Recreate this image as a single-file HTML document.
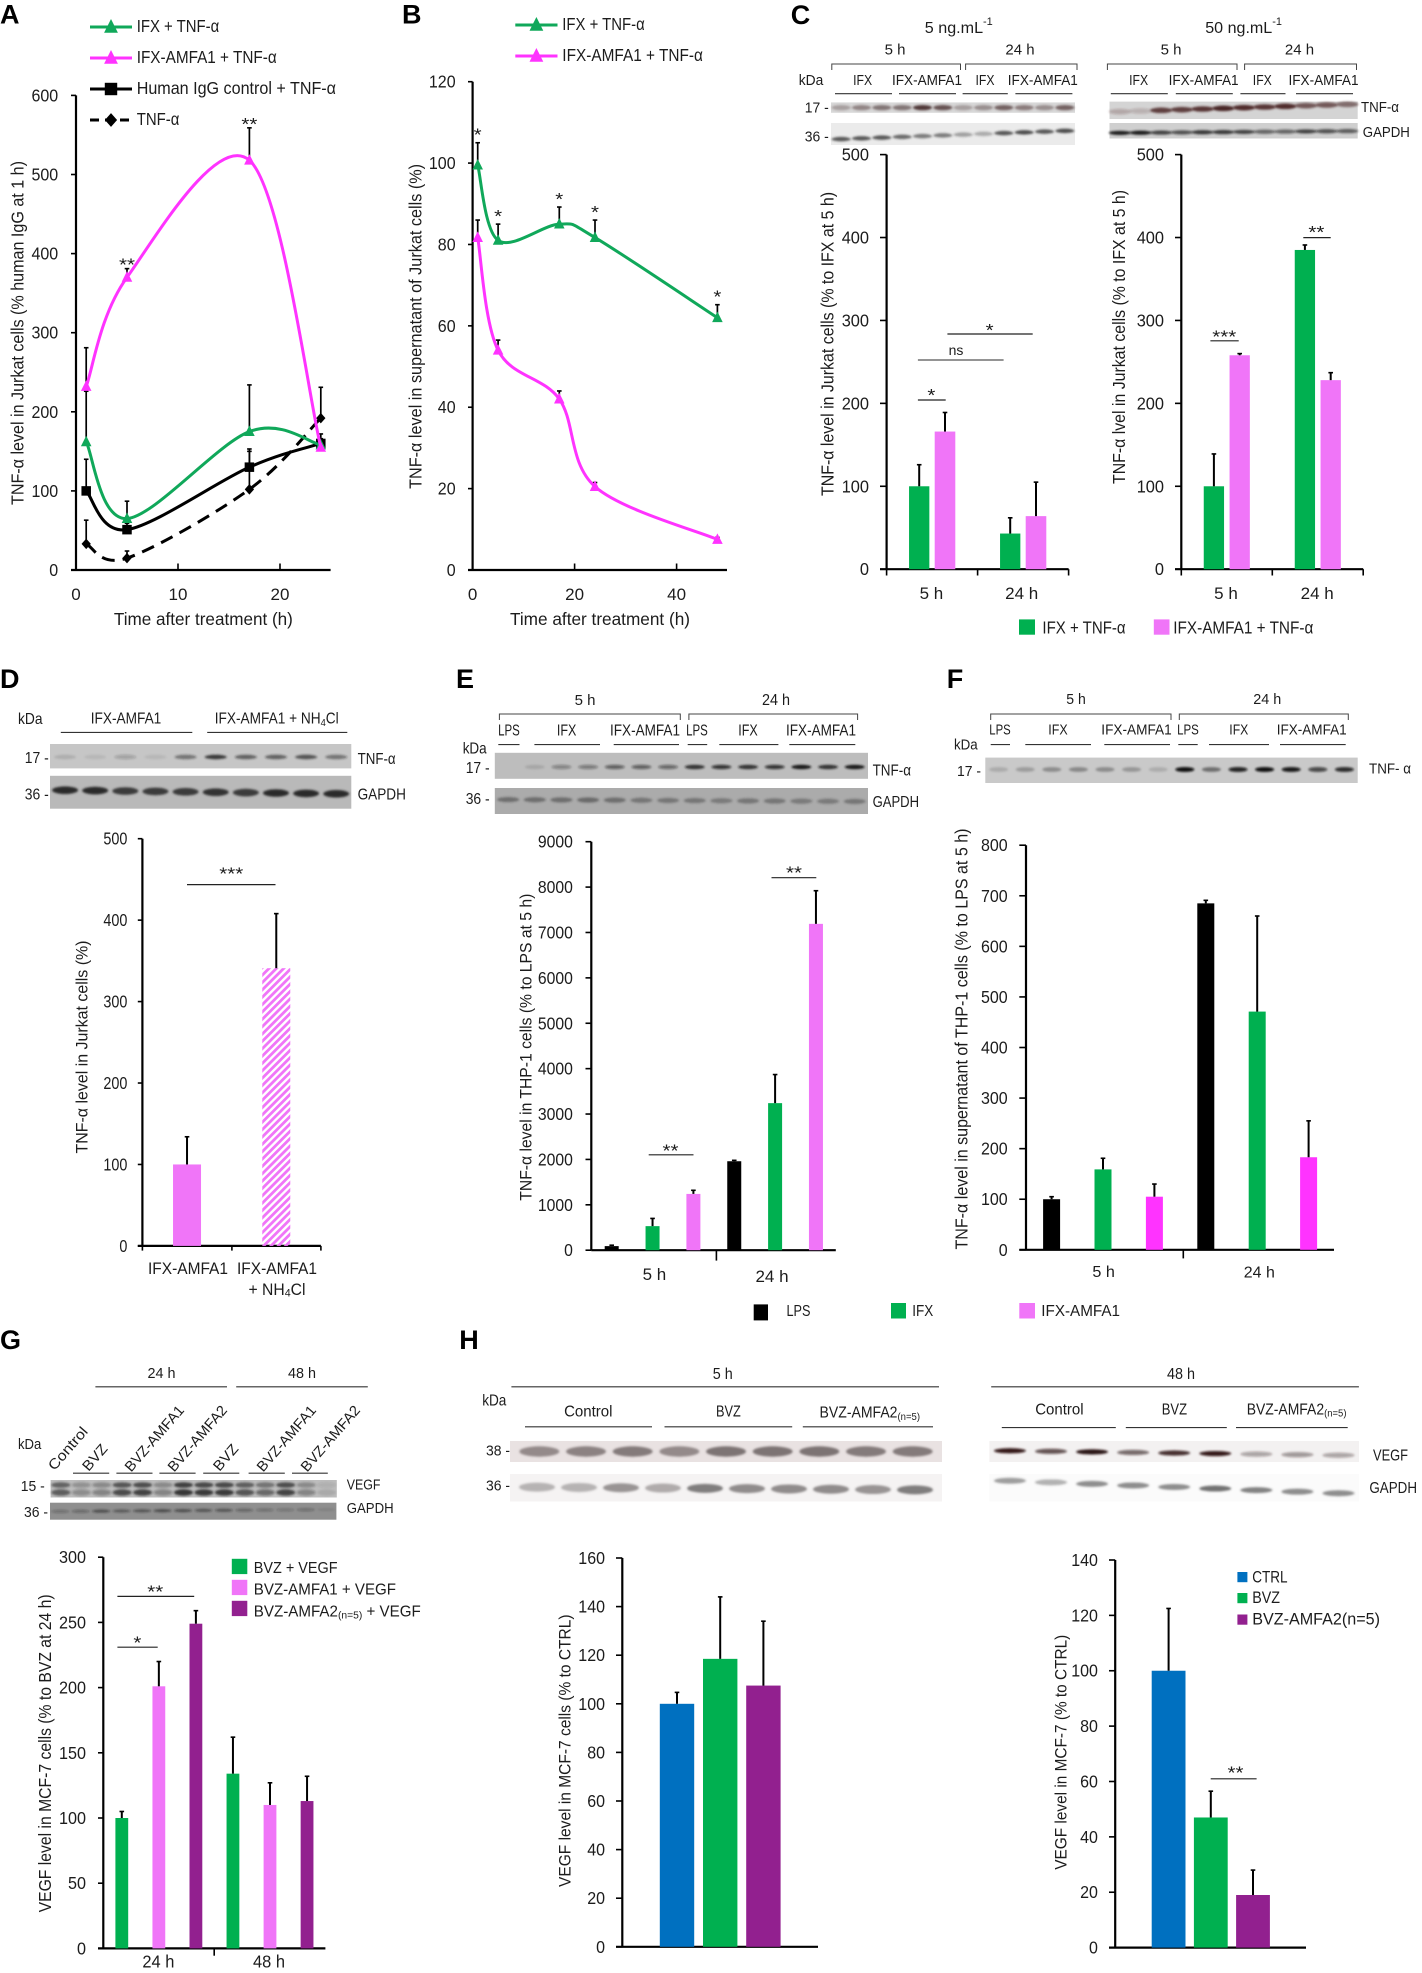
<!DOCTYPE html>
<html lang="en">
<head>
<meta charset="utf-8">
<title>TNF-α and VEGF levels figure</title>
<style>
html,body{margin:0;padding:0;background:#fff;}
svg{display:block;font-family:"Liberation Sans","DejaVu Sans",sans-serif;filter:blur(.35px);}
</style>
</head>
<body>
<svg id="figure" xmlns="http://www.w3.org/2000/svg" width="1422" height="1973" viewBox="0 0 1422 1973">
<defs>
<filter id="bandBlur" x="-30%" y="-80%" width="160%" height="260%"><feGaussianBlur stdDeviation="1.1"/></filter>
<pattern id="hatch" width="5.2" height="5.2" patternUnits="userSpaceOnUse" patternTransform="rotate(45)">
<rect width="2.8" height="5.2" fill="#f075f8"/>
</pattern>
</defs>
<rect width="1422" height="1973" fill="#fff"/>
</svg>
<script>
/* ---------- Panel A data ---------- */
const aTimes = [1, 5, 17, 24];
const aIfx = [162, 65, 175, 158];
const aIfxErr = [64, 22, 59, 8];
const aAmfa = [232, 370, 518, 155];
const aAmfaErr = [49, 11, 41, 0];
const aIgg = [100, 51, 130, 160];
const aIggErr = [40, 8, 23, 12];
const aTnf = [33, 15, 102, 192];
const aTnfErr = [30, 9, 48, 39];
const aYTicks = [0, 100, 200, 300, 400, 500, 600];
const aXTicks = [0, 10, 20];
/* ---------- Panel B data ---------- */
const bTimes = [1, 5, 17, 24, 48];
const bIfx = [99.5, 81, 85, 81.7, 62];
const bIfxErr = [5.5, 4, 4.2, 4.3, 3.2];
const bAmfa = [81.7, 54, 42, 20.5, 7.5];
const bAmfaErr = [4.3, 2.5, 2, 1, 0.5];
const bYTicks = [0, 20, 40, 60, 80, 100, 120];
const bXTicks = [0, 20, 40];
/* ---------- Panel C data ---------- */
const cCats = ['5 h', '24 h'];
const cYTicks = [0, 100, 200, 300, 400, 500];
const c1Ifx = [100, 43];
const c1IfxErr = [26, 19];
const c1Amfa = [166, 64];
const c1AmfaErr = [23, 41];
const c2Ifx = [100, 385];
const c2IfxErr = [39, 6];
const c2Amfa = [258, 228];
const c2AmfaErr = [2, 9];
/* ---------- Panel D data ---------- */
const dCats = ['IFX-AMFA1', 'IFX-AMFA1 + NH4Cl'];
const dValues = [100, 341];
const dErr = [34, 67];
const dYTicks = [0, 100, 200, 300, 400, 500];
/* ---------- Panel E data ---------- */
const eValues = [90, 530, 1240, 1960, 3240, 7190];
const eErr = [20, 170, 80, 20, 630, 730];
const eYTicks = [0, 1000, 2000, 3000, 4000, 5000, 6000, 7000, 8000, 9000];
/* ---------- Panel F data ---------- */
const fValues = [100, 159, 105, 685, 471, 183];
const fErr = [5, 22, 25, 6, 189, 72];
const fYTicks = [0, 100, 200, 300, 400, 500, 600, 700, 800];
/* ---------- Panel G data ---------- */
const gValues = [100, 201, 249, 134, 110, 113];
const gErr = [5, 19, 10, 28, 17, 19];
const gYTicks = [0, 50, 100, 150, 200, 250, 300];
/* ---------- Panel H data ---------- */
const h1Values = [100, 118.5, 107.5];
const h1Err = [4.7, 25.5, 26.5];
const h1YTicks = [0, 20, 40, 60, 80, 100, 120, 140, 160];
const h2Values = [100, 47, 19];
const h2Err = [22.5, 9.5, 9];
const h2YTicks = [0, 20, 40, 60, 80, 100, 120, 140];
/* ---------- Blot band intensities ---------- */
const blotC1Tnf = [.35,.5,.6,.6,.95,.8,.35,.45,.7,.55,.45,.7];
const blotC1Gapdh = [.8,.8,.8,.7,.6,.6,.4,.35,.8,.85,.8,.85];
const blotC2Tnf = [.25,.2,.85,.85,.9,1,.95,.9,.95,.7,.7,.6];
const blotC2Gapdh = [1,1,.8,.7,.85,.85,.8,.6,.6,.8,.7,.65];
const blotDTnf = [.12,.08,.22,.08,.5,.85,.6,.6,.7,.5];
const blotDGapdh = [1,1,.9,.9,.9,.95,.9,1,1,1];
const blotETnf = [0,.12,.35,.4,.55,.55,.5,.85,.8,.85,.8,1,.85,1];
const blotEGapdh = [.5,.5,.5,.55,.5,.45,.45,.45,.4,.45,.45,.4,.4,.45];
const blotFTnf = [.15,.22,.3,.32,.3,.25,.14,1,.45,.9,1,.95,.7,.85];
const blotGVegf = [.6,.3,.35,.7,.75,.35,.85,.8,.8,.65,.5,.75,.35,.1];
const blotGGapdh = [.3,.35,.6,.5,.55,.65,.6,.55,.55,.4,.3,.25,.3,.1];
const blotH1Vegf = [.6,.65,.7,.6,.75,.75,.75,.7,.7];
const blotH1Gapdh = [.4,.4,.6,.45,.75,.65,.65,.65,.6,.75];
const blotH2Vegf = [.95,.7,1,.6,.85,.95,.35,.4,.35];
const blotH2Gapdh = [.5,.4,.6,.6,.6,.75,.65,.6,.6];

const NS = 'http://www.w3.org/2000/svg';
const root = document.getElementById('figure');
let cur = root;
const INK = '#1c1c1c';
const GREEN = '#00b050', PINK = '#f075f8', MAGENTA = '#ff33ff', PURPLE = '#92208f', BLUE = '#0070c0';

function el(tag, attrs, name, interact) {
  const e = document.createElementNS(NS, tag);
  for (const k in attrs) e.setAttribute(k, attrs[k]);
  
  
  cur.appendChild(e);
  return e;
}
function panel(name) {
  cur = root;
  cur = el('g', {}, name);
}
/* text; [[x]] = subscript, <<x>> = superscript */
function t(x, y, str, name, o) {
  o = o || {};
  const size = (o.s || 14.5) * (o.w ? 1.07 : 1);
  const a = {x: x, y: y, fill: o.c || INK, 'font-size': size, 'text-anchor': o.a || 'start', 'dominant-baseline': 'central'};
  if (o.b) a['font-weight'] = 'bold';
  if (o.w) { a.textLength = o.w; a.lengthAdjust = 'spacingAndGlyphs'; }
  if (o.r) a.transform = 'rotate(' + o.r + ' ' + x + ' ' + y + ')';
  const e = el('text', a, name);
  const parts = str.split(/(\[\[.*?\]\]|<<.*?>>)/);
  let shift = 0;
  parts.forEach(function (p) {
    if (!p) return;
    const ts = document.createElementNS(NS, 'tspan');
    let want = 0, txt = p;
    if (p.indexOf('[[') === 0) { want = size * .28; txt = p.slice(2, -2); ts.setAttribute('font-size', size * .68); }
    else if (p.indexOf('<<') === 0) { want = -size * .35; txt = p.slice(2, -2); ts.setAttribute('font-size', size * .68); }
    if (want !== shift) { ts.setAttribute('dy', want - shift); shift = want; }
    ts.textContent = txt;
    e.appendChild(ts);
  });
  return e;
}
function ln(x1, y1, x2, y2, name, w, c) {
  return el('line', {x1: x1, y1: y1, x2: x2, y2: y2, stroke: c || '#000', 'stroke-width': w || 1.8}, name);
}
function rc(x, y, w, h, fill, name) {
  return el('rect', {x: x, y: y, width: w, height: h, fill: fill}, name);
}
function star(cx, cy, label, name) {
  t(cx, cy + 4, label, name, {a: 'middle', s: 16, w: label.length * 8});
}
function sig(x1, x2, y, label, sx, sy, name, c) {
  ln(x1, y, x2, y, name + '-line', 1.2, c || '#222');
  star(sx, sy, label, name + '-stars');
}
function scaleY(yBottom, yTop, max) {
  return function (v) { return yBottom - (v / max) * (yBottom - yTop); };
}
function drawYAxis(o) {
  const y = scaleY(o.yB, o.yT, o.max);
  ln(o.x, o.yT, o.x, o.yB, 'y-axis-line', 2.2);
  o.ticks.forEach(function (v) {
    ln(o.tl, y(v), o.x, y(v), 'y-axis-tick-' + v, 1.6);
    t(o.lr, y(v), String(v), 'y-tick-label-' + v, {a: 'end', s: o.fs || 16.5, w: String(v).length * o.dw});
  });
  ln(o.xs === undefined ? o.tl : o.xs, o.yB, o.xe, o.yB, 'x-axis-line', 2.2);
  return y;
}
function errBar(cx, top, base, name, lw) {
  ln(cx, base, cx, top, name, lw || 2);
  ln(cx - 2.3, top, cx + 2.3, top, name + '-cap', 1.6);
}
function bars(values, errs, colors, cxFn, bw, y, prefix) {
  values.forEach(function (v, i) {
    const cx = cxFn(i);
    const c = colors[i];
    rc(cx - bw / 2, y(v), bw, y(0) - y(v), c, prefix + '-bar-' + i);
    if (errs[i] > 0) errBar(cx, y(v + errs[i]), y(v), prefix + '-error-bar-' + i);
  });
}
/* Excel-style smoothed line through pixel points */
function smooth(pts) {
  let d = 'M' + pts[0][0] + ' ' + pts[0][1];
  for (let i = 0; i < pts.length - 1; i++) {
    const p0 = pts[Math.max(0, i - 1)], p1 = pts[i], p2 = pts[i + 1], p3 = pts[Math.min(pts.length - 1, i + 2)];
    const c1 = [p1[0] + (p2[0] - p0[0]) / 6, p1[1] + (p2[1] - p0[1]) / 6];
    const c2 = [p2[0] - (p3[0] - p1[0]) / 6, p2[1] - (p3[1] - p1[1]) / 6];
    d += ' C' + c1[0] + ' ' + c1[1] + ' ' + c2[0] + ' ' + c2[1] + ' ' + p2[0] + ' ' + p2[1];
  }
  return d;
}
function marker(type, cx, cy, color, name, k) {
  k = k || .88;
  if (type === 'tri') return el('polygon', {points: cx + ',' + (cy - 7 * k) + ' ' + (cx + 6 * k) + ',' + (cy + 5 * k) + ' ' + (cx - 6 * k) + ',' + (cy + 5 * k), fill: color}, name);
  if (type === 'sq') return rc(cx - 5.4 * k, cy - 5.4 * k, 10.8 * k, 10.8 * k, color, name);
  return el('polygon', {points: cx + ',' + (cy - 6 * k) + ' ' + (cx + 5.3 * k) + ',' + cy + ' ' + cx + ',' + (cy + 6 * k) + ' ' + (cx - 5.3 * k) + ',' + cy, fill: color}, name);
}
function series(times, vals, errs, x, y, color, type, dash, prefix) {
  const pts = times.map(function (tv, i) { return [x(tv), y(vals[i])]; });
  times.forEach(function (tv, i) {
    if (errs[i] > 0) errBar(x(tv), y(vals[i] + errs[i]), y(vals[i]), prefix + '-error-bar-' + tv, 1.7);
  });
  const a = {d: smooth(pts), fill: 'none', stroke: color, 'stroke-width': 3};
  if (dash) a['stroke-dasharray'] = dash;
  el('path', a, prefix + '-line');
  pts.forEach(function (p, i) { marker(type, p[0], p[1], color, prefix + '-point-' + times[i]); });
}
function lineLegend(x1, x2, yc, tx, tw, label, color, type, dash, name) {
  const a = {x1: x1, y1: yc, x2: x2, y2: yc, stroke: color, 'stroke-width': 3};
  if (dash) a['stroke-dasharray'] = dash;
  el('line', a, name + '-line');
  marker(type, (x1 + x2) / 2, yc, color, name + '-marker', 1.15);
  t(tx, yc - 1, label, name + '-label', {w: tw, s: 16});
}
function blot(x, y, w, h, bg, name) {
  rc(x, y, w, h, bg, name);
}
function bands(x, w, n, yc, slope, vals, rx, ry, color, name, inset) {
  inset = inset || 0;
  const lw = (w - 2 * inset) / n;
  vals.forEach(function (v, i) {
    if (v <= 0) return;
    const cx = x + inset + (i + .5) * lw;
    const cy = yc + slope * ((i + .5) / n - .5);
    el('ellipse', {cx: cx, cy: cy, rx: rx, ry: ry, fill: color, 'fill-opacity': v, filter: 'url(#bandBlur)'}, name + '-band-' + i);
  });
}
function bracket(x1, x2, y, drop, name) {
  el('path', {d: 'M' + x1 + ' ' + (y + drop) + 'V' + y + 'H' + x2 + 'V' + (y + drop), fill: 'none', stroke: '#444', 'stroke-width': 1}, name);
}
function under(arr, y, name) {
  arr.forEach(function (p, i) { ln(p[0], y, p[1], y, name + '-' + i, 1.1, '#333'); });
}
const LW = 'IFX + TNF-α', LA = 'IFX-AMFA1 + TNF-α';

/* ============ Panel A ============ */
panel('panel-a');
t(0, 14.5, 'A', 'panel-label-a', {s: 27, b: 1, c: '#000'});
lineLegend(90, 132, 27, 136.7, 82.5, LW, '#10a85a', 'tri', null, 'legend-ifx');
lineLegend(90, 132, 58, 136.7, 140, LA, MAGENTA, 'tri', null, 'legend-ifx-amfa1');
lineLegend(90, 132, 89, 136.7, 199.3, 'Human IgG control + TNF-α', '#000', 'sq', null, 'legend-human-igg');
lineLegend(90, 132, 120, 136.7, 42.7, 'TNF-α', '#000', 'dia', '9 6', 'legend-tnf');
(function () {
  const yA = drawYAxis({x: 76, yB: 570, yT: 95.4, max: 600, ticks: aYTicks, tl: 71, lr: 58.2, dw: 8.9, xe: 330.6});
  const xA = function (h) { return 76 + h * 10.2; };
  aXTicks.forEach(function (v) {
    if (v > 0) ln(xA(v), 570, xA(v), 563.5, 'x-axis-tick-' + v, 1.6);
    t(xA(v), 594, String(v), 'x-tick-label-' + v, {a: 'middle', s: 17});
  });
  t(17.5, 333, 'TNF-α level in Jurkat cells (% human IgG at 1 h)', 'y-axis-title', {a: 'middle', r: -90, w: 344, s: 16});
  t(203.4, 619, 'Time after treatment (h)', 'x-axis-title', {a: 'middle', w: 179, s: 16});
  series(aTimes, aTnf, aTnfErr, xA, yA, '#000', 'dia', '13 8', 'tnf-series');
  series(aTimes, aIgg, aIggErr, xA, yA, '#000', 'sq', null, 'igg-series');
  series(aTimes, aIfx, aIfxErr, xA, yA, '#10a85a', 'tri', null, 'ifx-series');
  series(aTimes, aAmfa, aAmfaErr, xA, yA, MAGENTA, 'tri', null, 'amfa-series');
  star(xA(5), yA(aAmfa[1] + aAmfaErr[1]) - 8, '**', 'significance-5h');
  star(xA(17), yA(aAmfa[2] + aAmfaErr[2]) - 8, '**', 'significance-17h');
})();

/* ============ Panel B ============ */
panel('panel-b');
t(402, 14.5, 'B', 'panel-label-b', {s: 27, b: 1, c: '#000'});
lineLegend(515.3, 557.5, 25, 562.3, 82.4, LW, '#10a85a', 'tri', null, 'legend-ifx');
lineLegend(515.3, 557.5, 56, 562.3, 140.6, LA, MAGENTA, 'tri', null, 'legend-ifx-amfa1');
(function () {
  const yB = drawYAxis({x: 472.6, yB: 570, yT: 81.7, max: 120, ticks: bYTicks, tl: 468, lr: 455.6, dw: 8.9, xe: 727});
  const xB = function (h) { return 472.6 + h * 5.1; };
  bXTicks.forEach(function (v) {
    if (v > 0) ln(xB(v), 570, xB(v), 563.5, 'x-axis-tick-' + v, 1.6);
    t(xB(v), 594, String(v), 'x-tick-label-' + v, {a: 'middle', s: 17});
  });
  t(415.4, 326.4, 'TNF-α level in supernatant of Jurkat cells (%)', 'y-axis-title', {a: 'middle', r: -90, w: 325, s: 16});
  t(600, 619, 'Time after treatment (h)', 'x-axis-title', {a: 'middle', w: 180, s: 16});
  series(bTimes, bAmfa, bAmfaErr, xB, yB, MAGENTA, 'tri', null, 'amfa-series');
  series(bTimes, bIfx, bIfxErr, xB, yB, '#10a85a', 'tri', null, 'ifx-series');
  bTimes.forEach(function (h, i) {
    star(xB(h), yB(bIfx[i] + bIfxErr[i]) - 12, '*', 'significance-' + h + 'h');
  });
})();

/* ============ Panel C ============ */
panel('panel-c');
t(790.8, 15, 'C', 'panel-label-c', {s: 27, b: 1, c: '#000'});
t(958.8, 27.8, '5 ng.mL<<-1>>', 'concentration-label-5', {a: 'middle', w: 68, s: 15});
t(1243.6, 27.8, '50 ng.mL<<-1>>', 'concentration-label-50', {a: 'middle', w: 76.7, s: 15});
t(895, 49.3, '5 h', 'blot-time-5h', {a: 'middle', s: 15});
t(1020, 49.3, '24 h', 'blot-time-24h', {a: 'middle', s: 15});
t(1171, 49.3, '5 h', 'blot-time-5h', {a: 'middle', s: 15});
t(1299.5, 49.3, '24 h', 'blot-time-24h', {a: 'middle', s: 15});
bracket(831.8, 960.5, 64, 6, 'bracket-5h');
bracket(965.6, 1077, 64, 6, 'bracket-24h');
bracket(1107.4, 1237, 64, 6, 'bracket-5h');
bracket(1244.6, 1356.5, 64, 6, 'bracket-24h');
t(798.8, 80, 'kDa', 'kda-label', {w: 24.5, s: 14});
[[862.6, 'IFX', 19], [927, 'IFX-AMFA1', 70], [985, 'IFX', 19], [1042.8, 'IFX-AMFA1', 70],
 [1138.6, 'IFX', 19], [1203.6, 'IFX-AMFA1', 70], [1262.3, 'IFX', 19], [1323.5, 'IFX-AMFA1', 70]].forEach(function (p) {
  t(p[0], 80, p[1], 'blot-lane-label', {a: 'middle', w: p[2], s: 14});
});
under([[835, 892], [899, 956], [962.6, 1007.8], [1015.4, 1072.4], [1110.8, 1167.8], [1175.8, 1232.8], [1240.4, 1285.5], [1296, 1353]], 93.7, 'lane-underline');
blot(831, 102.4, 244, 10.4, '#d8d8d8', 'blot-c1-tnf');
bands(831, 244, 12, 107.6, 0, blotC1Tnf, 9.5, 2.6, '#4a3030', 'blot-c1-tnf');
blot(831, 123, 244, 22, '#ebebeb', 'blot-c1-gapdh');
bands(831, 244, 12, 135, -9, blotC1Gapdh, 9.5, 2.2, '#333', 'blot-c1-gapdh');
blot(1109.5, 101.6, 248.2, 17.4, '#d4d4d4', 'blot-c2-tnf');
bands(1109.5, 248.2, 12, 108, -8, blotC2Tnf, 11, 2.8, '#4a2525', 'blot-c2-tnf');
blot(1109.5, 123, 248.2, 15.5, '#cfcfcf', 'blot-c2-gapdh');
bands(1109.5, 248.2, 12, 132, -2, blotC2Gapdh, 11, 2.1, '#1e1e1e', 'blot-c2-gapdh');
t(828.8, 107.4, '17 -', 'blot-mw-17', {a: 'end', w: 24, s: 14});
t(828.8, 136.4, '36 -', 'blot-mw-36', {a: 'end', w: 24, s: 14});
t(1361, 107, 'TNF-α', 'blot-label-tnf', {w: 38, s: 14});
t(1362.8, 132, 'GAPDH', 'blot-label-gapdh', {w: 47, s: 14});
(function () {
  const y1 = drawYAxis({x: 886.6, yB: 569.2, yT: 154.6, max: 500, ticks: cYTicks, tl: 880, lr: 869, dw: 9.1, xe: 1068.6, xs: 880});
  [886.6, 977.6, 1068.6].forEach(function (x, i) { ln(x, 569.2, x, 575.5, 'c1-x-axis-tick-' + i, 1.6); });
  const gc1 = function (g) { return 886.6 + (g + .5) * 91; };
  c1Ifx.forEach(function (v, g) {
    bars([v], [c1IfxErr[g]], [GREEN], function () { return gc1(g) - 12.9; }, 20.3, y1, 'c1-ifx-' + cCats[g].replace(' ', ''));
    bars([c1Amfa[g]], [c1AmfaErr[g]], [PINK], function () { return gc1(g) + 12.9; }, 20.6, y1, 'c1-amfa-' + cCats[g].replace(' ', ''));
  });
  t(931.4, 593, cCats[0], 'c1-x-label-5h', {a: 'middle', s: 17});
  t(1021.7, 593, cCats[1], 'c1-x-label-24h', {a: 'middle', s: 17});
  t(827.5, 344, 'TNF-α level in Jurkat cells (% to IFX at 5 h)', 'c1-y-axis-title', {a: 'middle', r: -90, w: 304, s: 16});
  sig(917.9, 945.7, 400, '*', 931.4, 391, 'c1-significance-5h');
  ln(917.9, 360, 1003.6, 360, 'ns-line', 1.3, '#555');
  t(956, 350, 'ns', 'ns-label', {a: 'middle', s: 14});
  sig(947.4, 1032.7, 334, '*', 989.6, 326, 'c1-significance-amfa');

  const y2 = drawYAxis({x: 1181.3, yB: 569.2, yT: 154.6, max: 500, ticks: cYTicks, tl: 1175, lr: 1164, dw: 9.1, xe: 1363.2, xs: 1175});
  [1181.3, 1272.3, 1363.2].forEach(function (x, i) { ln(x, 569.2, x, 575.5, 'c2-x-axis-tick-' + i, 1.6); });
  const gc2 = function (g) { return 1181.3 + (g + .5) * 91; };
  c2Ifx.forEach(function (v, g) {
    bars([v], [c2IfxErr[g]], [GREEN], function () { return gc2(g) - 12.9; }, 20.3, y2, 'c2-ifx-' + cCats[g].replace(' ', ''));
    bars([c2Amfa[g]], [c2AmfaErr[g]], [PINK], function () { return gc2(g) + 12.9; }, 20.3, y2, 'c2-amfa-' + cCats[g].replace(' ', ''));
  });
  t(1226, 593, cCats[0], 'c2-x-label-5h', {a: 'middle', s: 17});
  t(1317.2, 593, cCats[1], 'c2-x-label-24h', {a: 'middle', s: 17});
  t(1118.8, 337, 'TNF-α lvel in Jurkat cells (% to IFX at 5 h)', 'c2-y-axis-title', {a: 'middle', r: -90, w: 294, s: 16});
  sig(1210.4, 1238.7, 340.8, '***', 1224.3, 332.5, 'c2-significance-5h');
  sig(1303.3, 1330.7, 237.6, '**', 1316.4, 228, 'c2-significance-24h');
})();
rc(1019, 619.4, 16, 15.3, GREEN, 'legend-swatch-ifx');
t(1042.4, 627.7, LW, 'legend-label-ifx', {w: 83.2, s: 16});
rc(1153.8, 619.4, 15.7, 15.3, PINK, 'legend-swatch-amfa');
t(1173.3, 627.7, LA, 'legend-label-amfa', {w: 140, s: 16});

/* ============ Panel D ============ */
panel('panel-d');
t(0, 679, 'D', 'panel-label-d', {s: 27, b: 1, c: '#000'});
t(18, 719, 'kDa', 'kda-label', {w: 24.5, s: 14.5});
t(90.7, 718.5, 'IFX-AMFA1', 'blot-group-amfa', {w: 70.6, s: 14.5});
t(214.7, 718.5, 'IFX-AMFA1 + NH[[4]]Cl', 'blot-group-amfa-nh4cl', {w: 124, s: 14.5});
under([[60.8, 192.3], [207.2, 347.3]], 732.4, 'group-underline');
blot(50, 744, 301.3, 24.4, '#c6c6c6', 'blot-d-tnf');
bands(50, 301.3, 10, 757, 0, blotDTnf, 11, 2.2, '#222', 'blot-d-tnf');
blot(50, 775.8, 301.3, 32.9, '#b9b9b9', 'blot-d-gapdh');
bands(50, 301.3, 10, 792, 4, blotDGapdh, 13, 3.8, '#2c2c2c', 'blot-d-gapdh');
t(48.8, 758, '17 -', 'blot-mw-17', {a: 'end', w: 24, s: 14.5});
t(48.8, 794.4, '36 -', 'blot-mw-36', {a: 'end', w: 24, s: 14.5});
t(357.6, 758.9, 'TNF-α', 'blot-label-tnf', {w: 38, s: 14.5});
t(357.6, 794.4, 'GAPDH', 'blot-label-gapdh', {w: 48.3, s: 14.5});
(function () {
  const y = drawYAxis({x: 142.4, yB: 1245.9, yT: 838.7, max: 500, ticks: dYTicks, tl: 137.8, lr: 127.4, dw: 8, xe: 320.9});
  [142.4, 231.9, 320.9].forEach(function (x, i) { ln(x, 1245.9, x, 1250.6, 'x-axis-tick-' + i, 1.6); });
  const cx = function (i) { return 142.4 + (i + .5) * 89.25; };
  rc(cx(0) - 14, y(dValues[0]), 28, y(0) - y(dValues[0]), PINK, 'bar-ifx-amfa1');
  rc(cx(1) - 14, y(dValues[1]), 28, y(0) - y(dValues[1]), 'url(#hatch)', 'bar-ifx-amfa1-nh4cl');
  errBar(cx(0), y(dValues[0] + dErr[0]), y(dValues[0]), 'error-bar-ifx-amfa1');
  errBar(cx(1), y(dValues[1] + dErr[1]), y(dValues[1]), 'error-bar-ifx-amfa1-nh4cl');
  t(81.5, 1047, 'TNF-α level in Jurkat cells (%)', 'y-axis-title', {a: 'middle', r: -90, w: 213, s: 15.5});
  sig(187, 275.5, 884.6, '***', 231.3, 869.5, 'significance-d');
  t(188, 1268, dCats[0], 'x-label-amfa', {a: 'middle', w: 80, s: 15.5});
  t(277, 1268, dCats[0], 'x-label-amfa-nh4cl', {a: 'middle', w: 80, s: 15.5});
  t(277, 1289, '+ NH[[4]]Cl', 'x-label-nh4cl', {a: 'middle', w: 57, s: 15.5});
})();

/* ============ Panel E ============ */
panel('panel-e');
t(456, 679, 'E', 'panel-label-e', {s: 27, b: 1, c: '#000'});
t(585, 700, '5 h', 'blot-time-5h', {a: 'middle', s: 15});
t(776, 700, '24 h', 'blot-time-24h', {a: 'middle', s: 14.5, w: 28});
bracket(499.4, 680.3, 714, 6, 'bracket-5h');
bracket(688.9, 857.6, 714, 6, 'bracket-24h');
[[509, 'LPS', 21.7], [566.6, 'IFX', 19.5], [645, 'IFX-AMFA1', 70], [697, 'LPS', 21.7], [748, 'IFX', 19.5], [821, 'IFX-AMFA1', 70]].forEach(function (p) {
  t(p[0], 730.7, p[1], 'blot-lane-label', {a: 'middle', w: p[2], s: 14.5});
});
under([[498.3, 519.5], [534.4, 600], [613.7, 679], [687.7, 707.2], [719.3, 778.4], [789.3, 855.3]], 744.6, 'lane-underline');
t(462.7, 748.5, 'kDa', 'kda-label', {w: 24, s: 14.5});
blot(494.8, 752.8, 373.2, 26, '#bdbdbd', 'blot-e-tnf');
bands(494.8, 373.2, 14, 767, 0, blotETnf, 10, 2.1, '#141414', 'blot-e-tnf');
blot(494.8, 788, 373.2, 26, '#ababab', 'blot-e-gapdh');
bands(494.8, 373.2, 14, 800.5, 2, blotEGapdh, 11, 2.6, '#333', 'blot-e-gapdh');
t(489.7, 768, '17 -', 'blot-mw-17', {a: 'end', w: 24, s: 14.5});
t(489.7, 798.8, '36 -', 'blot-mw-36', {a: 'end', w: 24, s: 14.5});
t(872.6, 770.6, 'TNF-α', 'blot-label-tnf', {w: 38.4, s: 14.5});
t(872.6, 802, 'GAPDH', 'blot-label-gapdh', {w: 46.4, s: 14.5});
(function () {
  const y = drawYAxis({x: 591.3, yB: 1250.2, yT: 841.7, max: 9000, ticks: eYTicks, tl: 585.5, lr: 572.9, dw: 8.75, xe: 835.8, xs: 591.3});
  ln(716.4, 1250.2, 716.4, 1260.6, 'x-axis-group-divider', 1.6);
  bars(eValues, eErr, ['#000', GREEN, PINK, '#000', GREEN, PINK], function (i) { return 611.7 + i * 40.85; }, 14, y, 'e');
  t(525.3, 1047.2, 'TNF-α level in THP-1 cells (% to LPS at 5 h)', 'y-axis-title', {a: 'middle', r: -90, w: 307, s: 15.5});
  sig(648.7, 693.5, 1154.8, '**', 670.5, 1146.5, 'significance-5h');
  sig(771.5, 816.3, 877.7, '**', 794, 868.6, 'significance-24h');
  t(654.4, 1274, '5 h', 'x-label-5h', {a: 'middle', s: 17});
  t(772, 1276, '24 h', 'x-label-24h', {a: 'middle', s: 17});
})();
rc(753.7, 1304.4, 14.3, 16, '#000', 'legend-swatch-lps');
t(786.5, 1311, 'LPS', 'legend-label-lps', {w: 24, s: 15});
rc(891, 1303, 15, 15.5, GREEN, 'legend-swatch-ifx');
t(912.3, 1311, 'IFX', 'legend-label-ifx', {w: 21, s: 15});
rc(1019.3, 1303, 15.7, 15.5, PINK, 'legend-swatch-amfa');
t(1041.3, 1311, 'IFX-AMFA1', 'legend-label-amfa', {w: 78.7, s: 15});

/* ============ Panel F ============ */
panel('panel-f');
t(946.7, 679, 'F', 'panel-label-f', {s: 27, b: 1, c: '#000'});
t(1076, 700, '5 h', 'blot-time-5h', {a: 'middle', s: 13.5, w: 19.5});
t(1267.3, 700, '24 h', 'blot-time-24h', {a: 'middle', s: 13.5, w: 28});
bracket(990.7, 1171, 714, 6, 'bracket-5h');
bracket(1179.3, 1348.3, 714, 6, 'bracket-24h');
[[1000, 'LPS', 21.4], [1058, 'IFX', 19.4], [1136.5, 'IFX-AMFA1', 70.4], [1188, 'LPS', 21.7], [1238.8, 'IFX', 19], [1311.7, 'IFX-AMFA1', 70]].forEach(function (p) {
  t(p[0], 730.7, p[1], 'blot-lane-label', {a: 'middle', w: p[2], s: 13.5});
});
under([[990.7, 1010], [1025.3, 1091], [1104.3, 1170], [1178.3, 1197.7], [1209, 1269], [1280, 1345.7]], 744.6, 'lane-underline');
t(954, 745.4, 'kDa', 'kda-label', {w: 23.7, s: 13.5});
blot(985.3, 757.6, 372.4, 25.4, '#c9c9c9', 'blot-f-tnf');
bands(985.3, 372.4, 14, 769.5, 0, blotFTnf, 9.5, 2.4, '#0a0a0a', 'blot-f-tnf');
t(981, 771.9, '17 -', 'blot-mw-17', {a: 'end', w: 24, s: 13.5});
t(1369, 769.3, 'TNF- α', 'blot-label-tnf', {w: 42, s: 13.5});
(function () {
  const y = drawYAxis({x: 1026, yB: 1249.8, yT: 845.2, max: 800, ticks: fYTicks, tl: 1019.3, lr: 1007.7, dw: 8.9, xe: 1334});
  ln(1183.3, 1249.8, 1183.3, 1258.4, 'x-axis-group-divider', 1.6);
  bars(fValues, fErr, ['#000', GREEN, MAGENTA, '#000', GREEN, MAGENTA], function (i) { return 1051.6 + i * 51.4; }, 17, y, 'f');
  t(961.7, 1039, 'TNF-α level in supernatant of THP-1 cells (% to LPS at 5 h)', 'y-axis-title', {a: 'middle', r: -90, w: 421, s: 16});
  t(1103.7, 1271.9, '5 h', 'x-label-5h', {a: 'middle', s: 15, w: 22.5});
  t(1259.3, 1272.7, '24 h', 'x-label-24h', {a: 'middle', s: 15, w: 31});
})();

/* ============ Panel G ============ */
panel('panel-g');
t(0, 1340, 'G', 'panel-label-g', {s: 27, b: 1, c: '#000'});
t(161.5, 1374, '24 h', 'blot-time-24h', {a: 'middle', s: 13.5, w: 28});
t(302, 1374, '48 h', 'blot-time-48h', {a: 'middle', s: 13.5, w: 28});
under([[95.4, 227], [236.2, 367.8]], 1386.8, 'time-line');
t(18, 1445, 'kDa', 'kda-label', {w: 23.3, s: 13.5});
[[68.5, 1449, 'Control', 52], [95.5, 1458, 'BVZ', 30], [155, 1439, 'BVZ-AMFA1', 82], [198, 1439, 'BVZ-AMFA2', 82],
 [226.3, 1458, 'BVZ', 30], [287, 1439, 'BVZ-AMFA1', 82], [331, 1439, 'BVZ-AMFA2', 82]].forEach(function (p) {
  t(p[0], p[1], p[2], 'blot-lane-label', {a: 'middle', r: -49, w: p[3], s: 13.5});
});
under([[73, 109.2], [116.4, 152.5], [159.4, 195.6], [203.2, 239.3], [248.6, 284.8], [292, 327.8]], 1473.2, 'lane-underline');
blot(50.6, 1480, 286.2, 17.5, '#bdbdbd', 'blot-g-vegf');
bands(50.6, 286.2, 14, 1485, 0, blotGVegf, 9.5, 2.8, '#2a2a2a', 'blot-g-vegf-upper');
bands(50.6, 286.2, 14, 1492.5, 0, blotGVegf, 9.5, 3.2, '#1c1c1c', 'blot-g-vegf-lower');
blot(50, 1502.7, 286.4, 17, '#8f8f8f', 'blot-g-gapdh');
bands(50, 286.4, 14, 1510.5, -2, blotGGapdh, 9, 1.5, '#222', 'blot-g-gapdh');
t(44.8, 1487, '15 -', 'blot-mw-15', {a: 'end', w: 24, s: 13.5});
t(48, 1513.2, '36 -', 'blot-mw-36', {a: 'end', w: 24, s: 13.5});
t(346.8, 1485.3, 'VEGF', 'blot-label-vegf', {w: 33.7, s: 13.5});
t(346.8, 1508.8, 'GAPDH', 'blot-label-gapdh', {w: 46.8, s: 13.5});
(function () {
  const y = drawYAxis({x: 103.3, yB: 1948.4, yT: 1557.2, max: 300, ticks: gYTicks, tl: 98, lr: 86, dw: 9, xe: 325.4});
  ln(214.2, 1948.4, 214.2, 1955.7, 'x-axis-group-divider', 1.6);
  bars(gValues, gErr, [GREEN, PINK, PURPLE, GREEN, PINK, PURPLE], function (i) { return 121.8 + i * 37.05; }, 12.8, y, 'g');
  t(44.8, 1753.4, 'VEGF level in MCF-7 cells (% to BVZ at 24 h)', 'y-axis-title', {a: 'middle', r: -90, w: 318, s: 16});
  sig(117.4, 194.2, 1596.4, '**', 155.3, 1587.5, 'significance-amfa2');
  sig(117.4, 157.7, 1647.2, '*', 137.4, 1638.7, 'significance-amfa1');
  t(158.4, 1961.7, '24 h', 'x-label-24h', {a: 'middle', s: 16, w: 32});
  t(269, 1961.7, '48 h', 'x-label-48h', {a: 'middle', s: 16, w: 32});
})();
rc(231.8, 1558.8, 15.5, 15.3, GREEN, 'legend-swatch-bvz');
t(253.8, 1568, 'BVZ + VEGF', 'legend-label-bvz', {w: 83.7, s: 14.5});
rc(231.8, 1579.8, 15.5, 15.3, PINK, 'legend-swatch-amfa1');
t(253.8, 1589.5, 'BVZ-AMFA1 + VEGF', 'legend-label-amfa1', {w: 142.2, s: 14.5});
rc(231.8, 1600.8, 15.5, 15.3, PURPLE, 'legend-swatch-amfa2');
t(253.8, 1611.3, 'BVZ-AMFA2[[(n=5)]] + VEGF', 'legend-label-amfa2', {w: 167, s: 14.5});

/* ============ Panel H ============ */
panel('panel-h');
t(459.3, 1340, 'H', 'panel-label-h', {s: 27, b: 1, c: '#000'});
t(722.8, 1374, '5 h', 'blot-time-5h', {a: 'middle', s: 14.5, w: 20});
t(1181, 1374, '48 h', 'blot-time-48h', {a: 'middle', s: 14.5, w: 28});
under([[511.4, 939], [991.2, 1358.9]], 1386.8, 'time-line');
t(482.2, 1400.6, 'kDa', 'kda-label', {w: 24.2, s: 14.5});
t(588.3, 1411.5, 'Control', 'blot-group-control', {a: 'middle', w: 48.4, s: 14.5});
t(728.4, 1411.5, 'BVZ', 'blot-group-bvz', {a: 'middle', w: 24.8, s: 14.5});
t(869.8, 1412.7, 'BVZ-AMFA2[[(n=5)]]', 'blot-group-amfa2', {a: 'middle', w: 100.5, s: 14.5});
t(1059.4, 1409.4, 'Control', 'blot-group-control', {a: 'middle', w: 48.4, s: 14.5});
t(1174.4, 1409.4, 'BVZ', 'blot-group-bvz', {a: 'middle', w: 25.3, s: 14.5});
t(1296.6, 1409.4, 'BVZ-AMFA2[[(n=5)]]', 'blot-group-amfa2', {a: 'middle', w: 99.8, s: 14.5});
under([[525, 652], [664.5, 792.2], [802.8, 933]], 1426.8, 'group-underline');
under([[1001.8, 1115.8], [1125.8, 1226.8], [1236, 1347.7]], 1427.6, 'group-underline');
blot(510, 1441, 432, 21, '#e9e2e2', 'blot-h1-vegf');
bands(510, 432, 9, 1451.5, 0, blotH1Vegf, 20, 5.2, '#5a5050', 'blot-h1-vegf', 6);
blot(510, 1474, 432, 27.5, '#f5f3f3', 'blot-h1-gapdh');
bands(510, 432, 10, 1488.5, 3, blotH1Gapdh, 18, 4.5, '#5a5555', 'blot-h1-gapdh', 6);
blot(989.4, 1441, 369.6, 21, '#f3f1f1', 'blot-h2-vegf');
bands(989.4, 369.6, 9, 1453, 5, blotH2Vegf, 16, 2.6, '#2a1212', 'blot-h2-vegf');
blot(989.4, 1474, 369.6, 27.5, '#fbfbfb', 'blot-h2-gapdh');
bands(989.4, 369.6, 9, 1487, 14, blotH2Gapdh, 16, 3, '#444', 'blot-h2-gapdh');
t(510, 1450.6, '38 -', 'blot-mw-38', {a: 'end', w: 24, s: 14});
t(510, 1485.3, '36 -', 'blot-mw-36', {a: 'end', w: 24, s: 14});
t(1373, 1455.5, 'VEGF', 'blot-label-vegf', {w: 35, s: 14.5});
t(1369.4, 1488, 'GAPDH', 'blot-label-gapdh', {w: 47.6, s: 14.5});
(function () {
  const y1 = drawYAxis({x: 622.3, yB: 1946.8, yT: 1558, max: 160, ticks: h1YTicks, tl: 616, lr: 605, dw: 8.9, xe: 818});
  bars(h1Values, h1Err, [BLUE, GREEN, PURPLE], function (i) { return 677 + i * 43.2; }, 34.4, y1, 'h1');
  t(564.7, 1750.7, 'VEGF level in MCF-7 cells (% to CTRL)', 'h1-y-axis-title', {a: 'middle', r: -90, w: 272.5, s: 15.5});
  const y2 = drawYAxis({x: 1115.2, yB: 1947.6, yT: 1560, max: 140, ticks: h2YTicks, tl: 1109, lr: 1097.9, dw: 8.9, xe: 1306});
  bars(h2Values, h2Err, [BLUE, GREEN, PURPLE], function (i) { return 1168.6 + i * 42.2; }, 33.8, y2, 'h2');
  t(1060.7, 1752.2, 'VEGF level in MCF-7 (% to CTRL)', 'h2-y-axis-title', {a: 'middle', r: -90, w: 235, s: 15.5});
  sig(1210.7, 1256.6, 1778.8, '**', 1235.5, 1768.7, 'h2-significance');
})();
rc(1237.4, 1572, 10, 10.2, BLUE, 'legend-swatch-ctrl');
t(1252.2, 1576.6, 'CTRL', 'legend-label-ctrl', {w: 35.4, s: 15.5});
rc(1237.4, 1593, 10, 10.2, GREEN, 'legend-swatch-bvz');
t(1252.2, 1597.2, 'BVZ', 'legend-label-bvz', {w: 27.8, s: 15.5});
rc(1237.4, 1614.5, 10, 10.2, PURPLE, 'legend-swatch-amfa2');
t(1252.2, 1618.6, 'BVZ-AMFA2(n=5)', 'legend-label-amfa2', {w: 127.8, s: 15.5});
</script>
</body>
</html>
